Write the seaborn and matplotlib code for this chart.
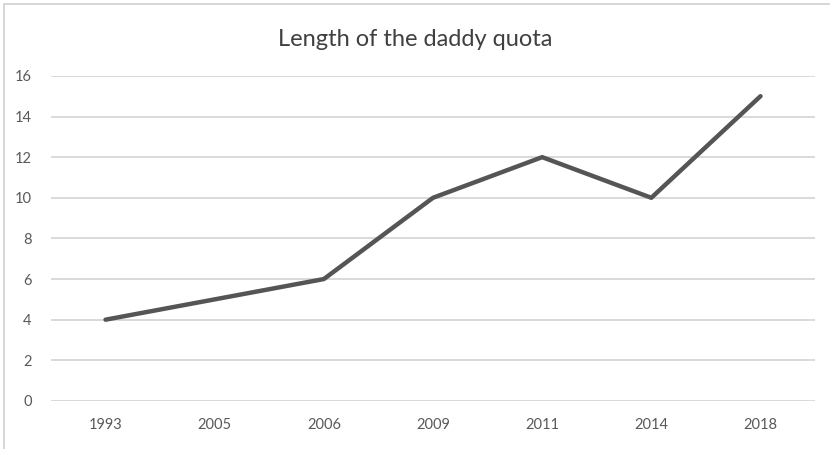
import matplotlib
matplotlib.use("Agg")
import matplotlib.pyplot as plt
import matplotlib.patches as mpatches
import seaborn as sns
import pandas as pd

years = ["1993", "2005", "2006", "2009", "2011", "2014", "2018"]
weeks = [4, 5, 6, 10, 12, 10, 15]
y_ticks = [0, 2, 4, 6, 8, 10, 12, 14, 16]

df = pd.DataFrame({"year": years, "weeks": weeks})

sns.set_theme(style="white")
plt.rcParams["font.family"] = ["Lato", "DejaVu Sans"]

fig = plt.figure(figsize=(8.3, 4.49), dpi=100)
ax = fig.add_axes([0.0614, 0.107, 0.9206, 0.724])

sns.lineplot(data=df, x="year", y="weeks", sort=False, ax=ax,
             color="#555555", linewidth=3.2, solid_capstyle="round",
             solid_joinstyle="round", zorder=3)

ax.set_xlim(-0.5, len(years) - 0.5)
ax.set_ylim(0, 16)
ax.set_yticks(y_ticks)
ax.set_yticklabels([str(v) for v in y_ticks])
ax.grid(axis="y", color="#d9d9d9", linewidth=1.4)
ax.grid(axis="x", visible=False)
for s in ax.spines.values():
    s.set_visible(False)
ax.tick_params(axis="both", length=0, labelsize=10.5, labelcolor="#595959")
ax.tick_params(axis="x", pad=12)
ax.tick_params(axis="y", pad=14)
ax.set_xlabel("")
ax.set_ylabel("")

fig.text(0.5, 0.912, "Length of the daddy quota", ha="center", va="center",
         fontsize=17, color="#404040")

# light frame around the chart area
fig.patches.append(mpatches.Rectangle((4 / 830, -0.02), 1.1, 1 - 4 / 449 + 0.02,
                                      transform=fig.transFigure, fill=False,
                                      edgecolor="#d0d0d0", linewidth=1.2))

fig.savefig("out.png", dpi=100)
